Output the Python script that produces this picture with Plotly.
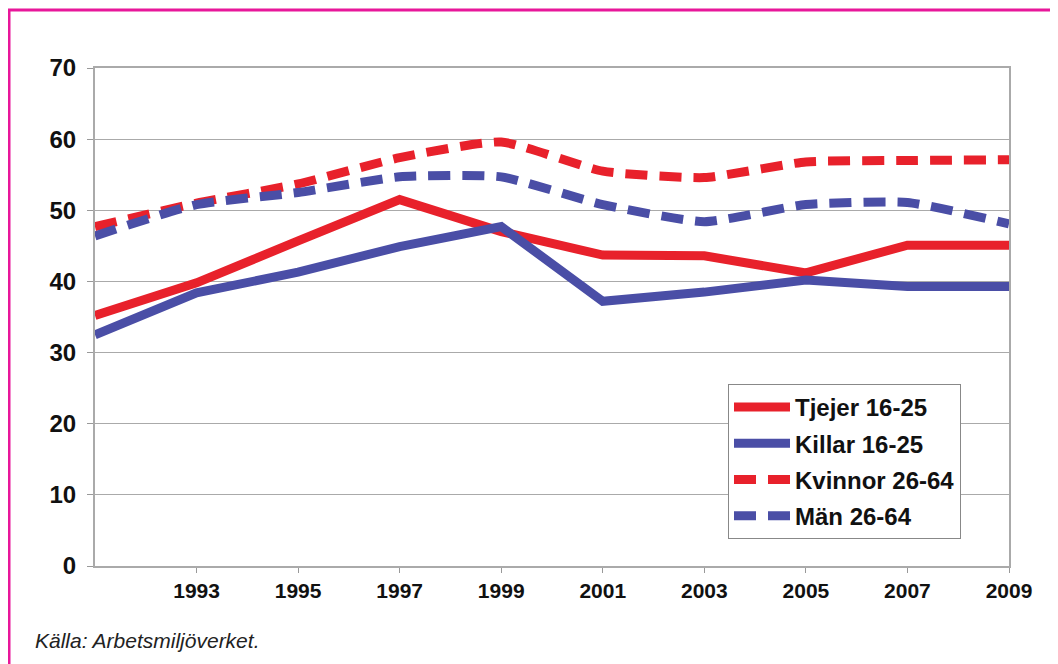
import plotly.graph_objects as go

years = [1991, 1993, 1995, 1997, 1999, 2001, 2003, 2005, 2007, 2009]
tjejer = [35.2, 39.8, 45.7, 51.5, 47.0, 43.7, 43.6, 41.2, 45.1, 45.1]
killar = [32.5, 38.4, 41.3, 44.9, 47.7, 37.2, 38.5, 40.2, 39.3, 39.3]
kvinnor = [47.7, 51.0, 53.7, 57.4, 59.6, 55.5, 54.6, 56.8, 57.0, 57.1]
man = [46.4, 50.8, 52.5, 54.7, 54.7, 50.8, 48.4, 50.8, 51.1, 48.1]

names = ["Tjejer 16-25", "Killar 16-25", "Kvinnor 26-64", "Män 26-64"]
x_ticks = [1993, 1995, 1997, 1999, 2001, 2003, 2005, 2007, 2009]
y_ticks = [0, 10, 20, 30, 40, 50, 60, 70]
source = "Källa: Arbetsmiljöverket."

RED = "#e8212b"
BLUE = "#4a4ea6"
OFF = 8  # page body margin
W, H = 1058 - 2 * OFF, 664 - OFF
L, R, T, B = 95 - OFF, 49 - OFF, 68 - OFF, 98
pw, ph = W - L - R, H - T - B

fig = go.Figure()
series = [(tjejer, RED, "solid", "linear"), (killar, BLUE, "solid", "linear"),
          (kvinnor, RED, "22px,12px", "spline"), (man, BLUE, "22px,12px", "spline")]
for i, (name, (vals, col, dash, shape)) in enumerate(zip(names, series)):
    fig.add_trace(go.Scatter(x=years, y=vals, name=name, mode="lines", legendgroup=f"g{i}",
                             line=dict(color=col, width=9, dash=dash, shape=shape, smoothing=0.5)))

def px_x(p):  # page pixel -> paper
    return (p - OFF - L) / pw

def px_y(p):
    return (T + ph - (p - OFF)) / ph

fig.update_layout(
    width=W, height=H,
    margin=dict(l=L, r=R, t=T, b=B),
    paper_bgcolor="white", plot_bgcolor="white",
    font=dict(family="Liberation Sans, Arial, sans-serif", color="#111"),
    xaxis=dict(range=[1991, 2009], tickvals=x_ticks, ticks="outside", ticklen=5,
               tickcolor="#999", showline=True, linecolor="#aaa", linewidth=2, mirror=True,
               showgrid=False, zeroline=False,
               tickfont=dict(size=21, weight="bold", color="#111")),
    yaxis=dict(range=[0, 70], tickvals=y_ticks, ticks="outside", ticklen=6,
               tickcolor="#999", showline=True, linecolor="#aaa", linewidth=2, mirror=True,
               showgrid=True, gridcolor="#aaa", gridwidth=1, zeroline=False,
               ticklabelstandoff=6,
               tickfont=dict(size=24, weight="bold", color="#111")),
    legend=dict(x=px_x(728), y=px_y(384), xanchor="left", yanchor="top",
                bgcolor="white", bordercolor="#888", borderwidth=1, tracegroupgap=2,
                font=dict(size=24, weight="bold", color="#111"), itemwidth=56),
    showlegend=True,
)

fig.add_annotation(text=source, xref="paper", yref="paper", x=px_x(33), y=px_y(640),
                   xanchor="left", yanchor="middle", showarrow=False,
                   font=dict(size=21, style="italic", color="#222"))

# magenta frame (top and left)
fig.add_shape(type="line", xref="paper", yref="paper", x0=px_x(OFF), x1=px_x(1070),
              y0=px_y(10), y1=px_y(10), line=dict(color="#e8179a", width=3))
fig.add_shape(type="line", xref="paper", yref="paper", x0=px_x(OFF + 1), x1=px_x(OFF + 1),
              y0=px_y(10), y1=px_y(680), line=dict(color="#e8179a", width=3))

fig.write_html("out.html")
